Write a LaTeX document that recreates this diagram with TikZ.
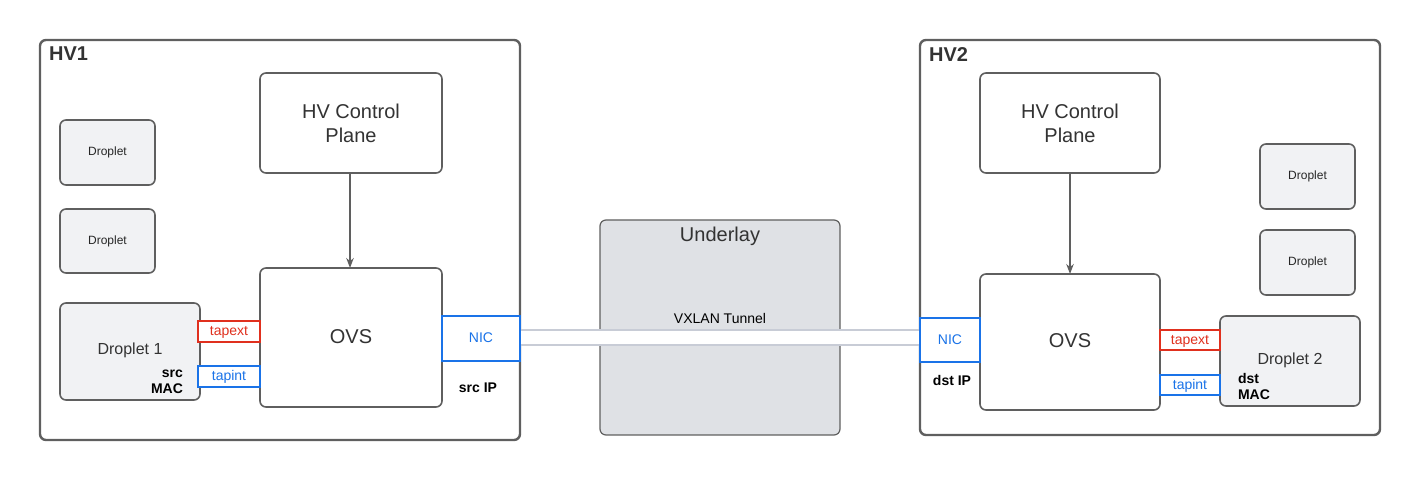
\documentclass[tikz,border=0pt]{standalone}
\usepackage{fontspec}
\setmainfont{Liberation Sans}
\usetikzlibrary{arrows.meta}
\definecolor{bd}{HTML}{5F5F5F}
\definecolor{dfill}{HTML}{F1F2F4}
\definecolor{ured}{HTML}{E0301E}
\definecolor{ublue}{HTML}{1A73E8}
\definecolor{ufill}{HTML}{DFE1E5}
\definecolor{tun}{HTML}{C8CCD6}
\begin{document}
\begin{tikzpicture}[x=0.5pt,y=-0.5pt,
 hv/.style={draw=bd,line width=1.2pt,rounded corners=3pt},
 box/.style={draw=bd,line width=0.8pt,rounded corners=3pt,fill=white},
 drop/.style={draw=bd,line width=0.8pt,rounded corners=3pt,fill=dfill},
 tapx/.style={draw=ured,line width=0.8pt,fill=white},
 tapi/.style={draw=ublue,line width=0.8pt,fill=white},
 txt/.style={text=black!80,font=\fontsize{10}{12}\selectfont,align=center},
 small/.style={text=black!85,font=\fontsize{6}{7}\selectfont},
 bold/.style={font=\bfseries\fontsize{7}{8}\selectfont,align=left}]
\useasboundingbox (0,0) rectangle (1420,480);
% HV frames
\draw[hv] (40,40) rectangle (520,440);
\draw[hv] (920,40) rectangle (1380,435);
\node[anchor=north west,font=\bfseries\fontsize{10}{12}\selectfont,text=black!80] (hv1) at (42,40) {HV1};
\node[anchor=north west,font=\bfseries\fontsize{10}{12}\selectfont,text=black!80] (hv2) at (922,40) {HV2};
% underlay
\draw[draw=bd,line width=0.6pt,fill=ufill,rounded corners=3pt] (600,220) rectangle (840,435);
\node[txt] (ul) at (720,236) {Underlay};
% tunnel
\draw[draw=tun,line width=0.8pt,fill=white] (520,330) rectangle (920,345);
\node[font=\fontsize{7}{8}\selectfont] (vx) at (720,318) {VXLAN Tunnel};
% HV1
\draw[box] (260,73) rectangle (442,173);
\node[txt] (cp1) at (351,123) {HV Control\\Plane};
\draw[box] (260,268) rectangle (442,407);
\node[txt] (ovs1) at (351,337) {OVS};
\coordinate (cp1b) at (350,173); \coordinate (ovs1t) at (350,268);
\draw[bd,line width=0.8pt,-{Stealth[length=5pt]}] (cp1b) -- (ovs1t);
\draw[drop] (60,120) rectangle (155,185); \node[small] (d11) at (107.5,152.5) {Droplet};
\draw[drop] (60,209) rectangle (155,273); \node[small] (d12) at (107.5,241) {Droplet};
\draw[drop] (60,303) rectangle (200,400);
\node[font=\fontsize{8}{10}\selectfont,text=black!80] (d1) at (130,350) {Droplet 1};
\node[bold,align=right] (sm) at (167,382) {src\\MAC};
\draw[tapx] (198,321) rectangle (260,342); \node[font=\fontsize{7}{8}\selectfont,text=ured] (te1) at (229,332) {tapext};
\draw[tapi] (198,366) rectangle (260,387); \node[font=\fontsize{7}{8}\selectfont,text=ublue] (ti1) at (229,377) {tapint};
\draw[tapi] (442,316) rectangle (520,361); \node[font=\fontsize{7}{8}\selectfont,text=ublue] (nic1) at (481,338) {NIC};
\node[bold] (sip) at (478,388) {src IP};
% HV2
\draw[box] (980,73) rectangle (1160,173);
\node[txt] (cp2) at (1070,123) {HV Control\\Plane};
\draw[box] (980,274) rectangle (1160,410);
\node[txt] (ovs2) at (1070,341) {OVS};
\coordinate (cp2b) at (1070,173); \coordinate (ovs2t) at (1070,274);
\draw[bd,line width=0.8pt,-{Stealth[length=5pt]}] (cp2b) -- (ovs2t);
\draw[drop] (1260,144) rectangle (1355,209); \node[small] (d21) at (1307.5,176) {Droplet};
\draw[drop] (1260,230) rectangle (1355,295); \node[small] (d22) at (1307.5,262) {Droplet};
\draw[drop] (1220,316) rectangle (1360,406);
\node[font=\fontsize{8}{10}\selectfont,text=black!80] (d2) at (1290,360) {Droplet 2};
\node[bold] (dm) at (1254,386) {dst\\MAC};
\draw[tapx] (1160,330) rectangle (1220,350); \node[font=\fontsize{7}{8}\selectfont,text=ured] (te2) at (1190,341) {tapext};
\draw[tapi] (1160,375) rectangle (1220,395); \node[font=\fontsize{7}{8}\selectfont,text=ublue] (ti2) at (1190,386) {tapint};
\draw[tapi] (920,318) rectangle (980,362); \node[font=\fontsize{7}{8}\selectfont,text=ublue] (nic2) at (950,340) {NIC};
\node[bold] (dip) at (952,380) {dst IP};
\end{tikzpicture}
\end{document}
